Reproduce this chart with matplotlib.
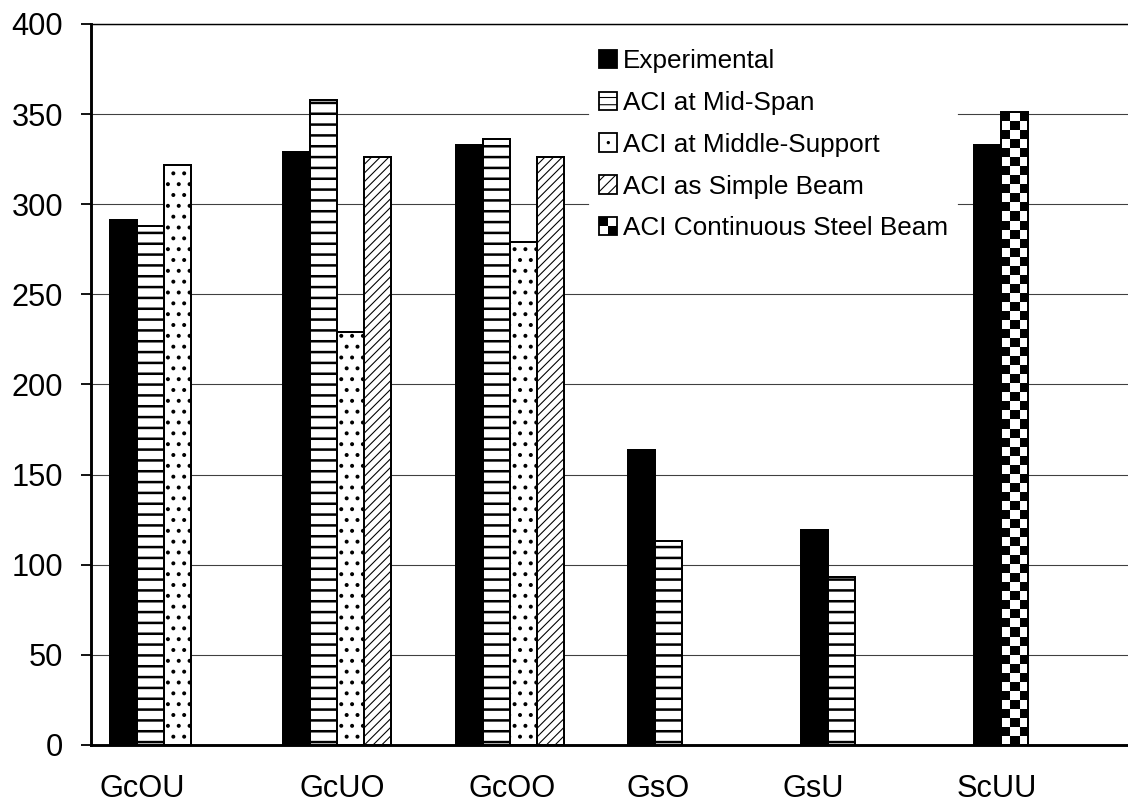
import numpy as np
import matplotlib
matplotlib.use("Agg")
import matplotlib.pyplot as plt
from matplotlib.patches import Patch, Rectangle, Circle
from matplotlib.legend_handler import HandlerBase

plt.rcParams['font.family'] = ['Liberation Sans', 'DejaVu Sans']

# data
categories = ['GcOU', 'GcUO', 'GcOO', 'GsO', 'GsU', 'ScUU']
label_pos = [0.295, 1.453, 2.436, 3.281, 4.178, 5.243]  # where the category names sit
nan = np.nan
experimental = [291, 329, 333, 163.5, 119.5, 333]
mid_span = [288, 358, 336, 113, 93, nan]
middle_support = [322, 229, 279, nan, nan, nan]
simple_beam = [nan, 326, 326, nan, nan, nan]
continuous_steel = [nan, nan, nan, nan, nan, 351]

series_names = ['Experimental', 'ACI at Mid-Span', 'ACI at Middle-Support',
                'ACI as Simple Beam', 'ACI Continuous Steel Beam']

DPI = 130
fig = plt.figure(figsize=(1128 / DPI, 805 / DPI), dpi=DPI)
ax = fig.add_axes([91 / 1128, 60 / 805, 1037 / 1128, 721 / 805])

n = len(categories)
w = 1 / 6.4          # bar width (category width is 1)
x0 = np.arange(n) + 0.7 * w


def slot(j):
    return x0 + (j + 0.5) * w


def draw_bars(vals, j, hatch=None, face='white', hatch_lw=1.0, edge_lw=1.1):
    plt.rcParams['hatch.linewidth'] = hatch_lw
    bars = ax.bar(slot(j), vals, width=w, facecolor=face, edgecolor='black',
                  linewidth=edge_lw, hatch=hatch, zorder=3)
    for b in bars:
        if hasattr(b, 'set_hatch_linewidth'):
            b.set_hatch_linewidth(hatch_lw)
    return bars


draw_bars(experimental, 0, face='black')
draw_bars(mid_span, 1, hatch='--', hatch_lw=1.4)
draw_bars(middle_support, 2, hatch='..', hatch_lw=1.0)
draw_bars(simple_beam, 3, hatch='/////', hatch_lw=0.6)

# checkerboard bar (continuous steel beam sits in the second slot)
cont = np.array(continuous_steel, dtype=float)
xs = slot(1)
for xc, v in zip(xs, cont):
    if np.isnan(v):
        continue
    rows = int(round(v / 5.0))
    rr, cc = np.mgrid[0:rows, 0:3]
    img = ((rr + cc) % 2 == 0).astype(float)
    img = 1 - img[::-1] if rows % 2 == 0 else 1 - img
    ax.imshow(img, cmap='gray', vmin=0, vmax=1, interpolation='nearest',
              extent=(xc - w / 2, xc + w / 2, 0, v), origin='lower',
              aspect='auto', zorder=3)
    ax.bar(xc, v, width=w, facecolor='none', edgecolor='black', linewidth=1.1, zorder=4)

ax.set_xlim(0, n)
ax.set_ylim(0, 400)
ax.set_aspect('auto')
ax.set_yticks(np.arange(0, 401, 50))
ax.set_xticks(label_pos)
ax.set_xticklabels(categories)
ax.tick_params(axis='x', length=0, pad=16, labelsize=17)
ax.tick_params(axis='y', length=5.5, width=1.0, pad=10, labelsize=17, direction='out')

ax.yaxis.grid(True, color='#404040', linewidth=0.6)
ax.set_axisbelow(True)
ax.spines['right'].set_visible(False)
ax.spines['left'].set_linewidth(1.6)
ax.spines['bottom'].set_linewidth(1.6)
ax.spines['top'].set_linewidth(0.8)


class CheckerHandler(HandlerBase):
    def create_artists(self, legend, orig_handle, xdescent, ydescent,
                       width, height, fontsize, trans):
        s = min(width, height)
        bx = -xdescent + (width - s) / 2
        by = -ydescent + (height - s) / 2
        h = s / 2
        box = Rectangle((bx, by), s, s, fc='white', ec='black', lw=1.0, transform=trans)
        a = Rectangle((bx, by + h), h, h, fc='black', ec='none', transform=trans)
        b = Rectangle((bx + h, by), h, h, fc='black', ec='none', transform=trans)
        return [box, a, b]


class DotHandler(HandlerBase):
    def create_artists(self, legend, orig_handle, xdescent, ydescent,
                       width, height, fontsize, trans):
        s = min(width, height)
        bx = -xdescent + (width - s) / 2
        by = -ydescent + (height - s) / 2
        box = Rectangle((bx, by), s, s, fc='white', ec='black', lw=1.0, transform=trans)
        dot = Circle((bx + s / 2, by + s / 2), s * 0.09, fc='black', ec='none', transform=trans)
        return [box, dot]


checker_handle = Patch(facecolor='white', edgecolor='black')
dot_handle = Patch(facecolor='white', edgecolor='black')
handles = [Patch(facecolor='black', edgecolor='black'),
           Patch(facecolor='white', edgecolor='black', hatch='---'),
           dot_handle,
           Patch(facecolor='white', edgecolor='black', hatch='////'),
           checker_handle]
leg = ax.legend(handles, series_names, loc='upper left',
                bbox_to_anchor=((590 - 91) / 1037, (745 - 40) / 721),
                fontsize=14.5, frameon=True, fancybox=False, framealpha=1,
                edgecolor='white', facecolor='white', borderpad=0.35,
                borderaxespad=0, handlelength=0.7, handleheight=0.7,
                handletextpad=0.2, labelspacing=0.68,
                handler_map={checker_handle: CheckerHandler(),
                             dot_handle: DotHandler()})
leg.set_zorder(5)

fig.savefig('out.png', dpi=DPI)
